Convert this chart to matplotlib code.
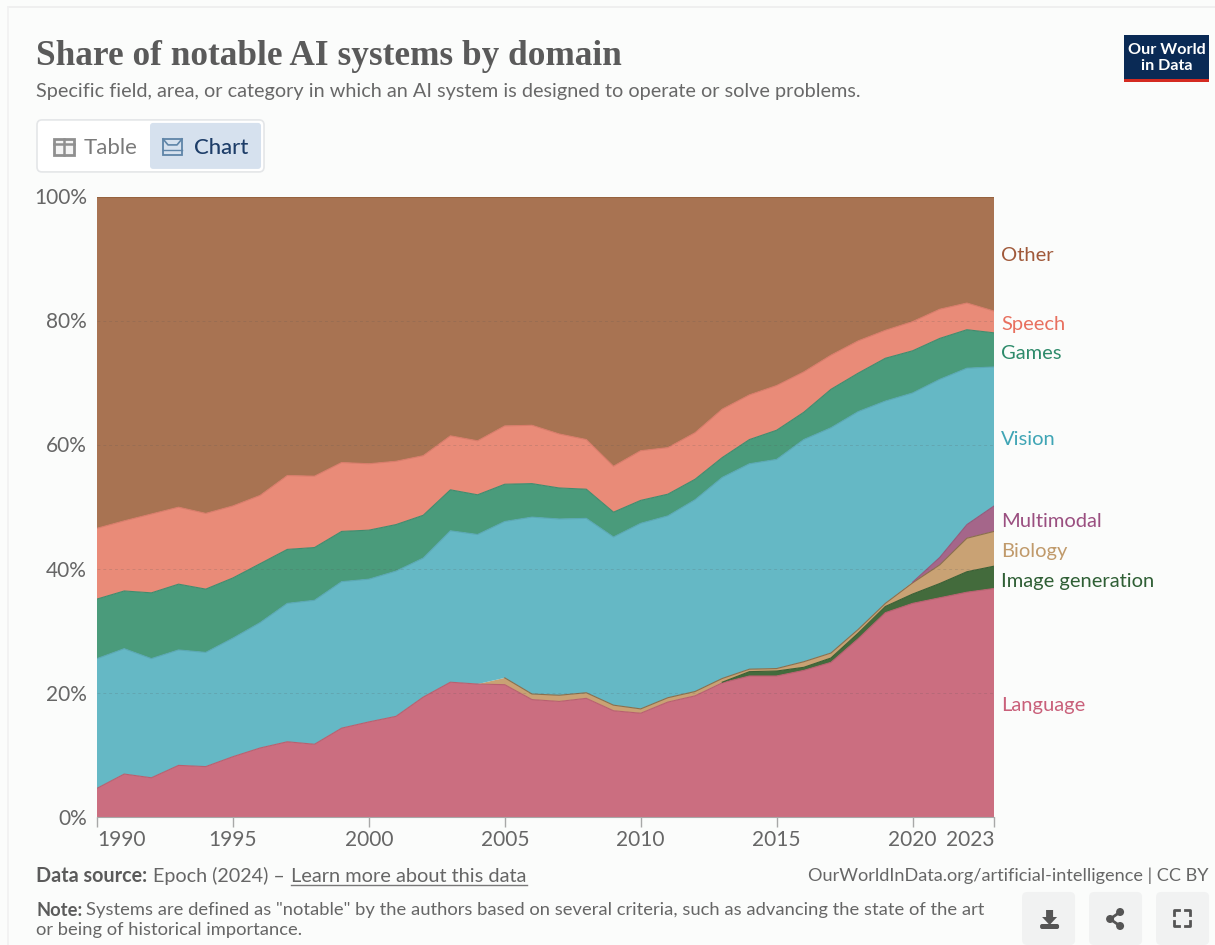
import matplotlib
matplotlib.use("Agg")
import matplotlib.pyplot as plt
from matplotlib.patches import Rectangle, FancyBboxPatch, Circle, Polygon

years = list(range(1990, 2024))
xtick_years = [1990, 1995, 2000, 2005, 2010, 2015, 2020, 2023]
ytick_values = [0, 20, 40, 60, 80, 100]

language = [4.7, 7.0, 6.4, 8.4, 8.2, 9.8, 11.2, 12.2, 11.8, 14.4, 15.4, 16.3, 19.4, 21.8, 21.5, 21.4, 19.0,
            18.7, 19.2, 17.2, 16.8, 18.6, 19.6, 21.7, 22.8, 22.8, 23.7, 25.0, 28.8, 33.0, 34.5, 35.4, 36.3, 36.9]
image_generation = [0, 0, 0, 0, 0, 0, 0, 0, 0, 0, 0, 0, 0, 0, 0, 0, 0,
                    0, 0, 0, 0, 0, 0, 0.1, 0.7, 0.8, 0.5, 0.7, 0.9, 1.0, 1.5, 2.3, 3.3, 3.6]
biology = [0, 0, 0, 0, 0, 0, 0, 0, 0, 0, 0, 0, 0, 0, 0, 1.1, 0.9,
           1.0, 0.9, 0.9, 0.7, 0.7, 0.7, 0.6, 0.4, 0.4, 0.9, 0.8, 0.6, 0.5, 1.8, 3.0, 5.4, 5.6]
multimodal = [0, 0, 0, 0, 0, 0, 0, 0, 0, 0, 0, 0, 0, 0, 0, 0, 0,
              0, 0, 0, 0, 0, 0, 0, 0, 0, 0, 0, 0, 0, 0.1, 1.2, 2.2, 4.1]
vision = [20.9, 20.2, 19.2, 18.6, 18.4, 19.1, 20.2, 22.3, 23.2, 23.6, 23.0, 23.4, 22.4, 24.4, 24.1, 25.2, 28.5,
          28.4, 28.1, 27.1, 29.9, 29.3, 30.9, 32.4, 33.1, 33.7, 35.8, 36.3, 35.1, 32.6, 30.5, 28.7, 25.2, 22.4]
games = [9.6, 9.3, 10.6, 10.6, 10.2, 9.7, 9.5, 8.7, 8.5, 8.1, 7.9, 7.5, 6.9, 6.6, 6.4, 6.0, 5.4,
         5.0, 4.7, 4.0, 3.7, 3.5, 3.3, 3.2, 3.9, 4.7, 4.4, 6.2, 6.2, 6.9, 6.8, 6.6, 6.2, 5.5]
speech = [11.4, 11.3, 12.7, 12.4, 12.2, 11.6, 11.0, 11.9, 11.5, 11.1, 10.7, 10.2, 9.6, 8.7, 8.7, 9.4, 9.4,
          8.7, 8.0, 7.4, 8.0, 7.5, 7.5, 7.8, 7.2, 7.2, 6.5, 5.5, 5.2, 4.5, 4.7, 4.7, 4.3, 3.5]
other = [53.4, 52.2, 51.1, 50.0, 51.0, 49.8, 48.1, 44.9, 45.0, 42.8, 43.0, 42.6, 41.7, 38.5, 39.3, 36.9, 36.8,
         38.2, 39.1, 43.4, 40.9, 40.4, 38.0, 34.2, 31.9, 30.4, 28.2, 25.5, 23.2, 21.5, 20.1, 18.1, 17.1, 18.4]

series = [language, image_generation, biology, multimodal, vision, games, speech, other]
fill_colors = ["#CB6E80", "#436B3C", "#C9A274", "#A5668A", "#65B8C5", "#4A9B7B", "#E98B78", "#A87352"]
edge_colors = ["#B8606F", "#3A5F34", "#8A6F4C", "#94597B", "#5AA8B4", "#418B6E", "#D97C6A", "#96633F"]

end_labels = ["Language", "Image generation", "Biology", "Multimodal", "Vision", "Games", "Speech", "Other"]
end_label_colors = ["#C9607A", "#2F5F35", "#C09A6B", "#9A4F80", "#3FA5B5", "#2E8B6B", "#E8705F", "#A0593A"]
end_label_y = [704, 580, 550, 520, 438, 352, 323, 254]

GREY = "#5B5B5B"
BG = "#FBFCFB"
TY = 1.2  # text sits a bit low in the reference

plt.rcParams["font.family"] = ["Lato", "DejaVu Sans"]

W, H = 1215, 945
fig = plt.figure(figsize=((W + 0.1) / 100, (H + 0.1) / 100), dpi=100, facecolor=BG)

# chart area, in pixels of the reference
left, right, top, bottom = 97, 994, 197, 817.5
ax = fig.add_axes([left / W, 1 - bottom / H, (right - left) / W, (bottom - top) / H])
ax.stackplot(years, series, colors=fill_colors, edgecolor=None, linewidth=0)

# thin darker line on top of each band, only where the band exists
lower = [0] * len(years)
for values, edge in zip(series, edge_colors):
    upper = [a + b for a, b in zip(lower, values)]
    xs = [y for y, v in zip(years, values) if v > 0]
    ys = [u for u, v in zip(upper, values) if v > 0]
    ax.plot(xs, ys, color=edge, lw=0.8)
    lower = upper

ax.set_xlim(1990, 2023)
ax.set_ylim(0, 100)
ax.set_facecolor(BG)
for y in ytick_values[1:-1]:
    ax.axhline(y, color="#555555", lw=0.7, ls=(0, (3, 3)), alpha=0.18)
for s in ["top", "right", "left"]:
    ax.spines[s].set_visible(False)
ax.spines["bottom"].set_color("#A8A8A8")
ax.set_xticks(xtick_years)
ax.set_xticklabels([])
ax.set_yticks(ytick_values)
ax.set_yticklabels([])
ax.tick_params(axis="x", length=7, color="#A8A8A8", width=1)
ax.tick_params(axis="y", length=0)

# overlay in pixel coordinates for all the page furniture
page = fig.add_axes([0, 0, 1, 1], facecolor="none")
page.set_xlim(0, W)
page.set_ylim(H, 0)
page.axis("off")

page.plot([8, W], [7, 7], color="#EDEDED", lw=1.2)
page.plot([8, 8], [7, H], color="#F1F1F1", lw=1.2)

page.text(36, 55 + TY, "Share of notable AI systems by domain", family="Liberation Serif", weight="bold",
          fontsize=25.4, color="#5A5A5A", va="center")
page.text(36, 90 + TY, "Specific field, area, or category in which an AI system is designed to operate or solve problems.",
          fontsize=14.35, color="#686868", va="center")

# logo
page.add_patch(Rectangle((1124, 35), 85, 47, color="#0A2A55", lw=0))
page.add_patch(Rectangle((1124, 79), 85, 3.5, color="#D42B21", lw=0))
page.text(1166.5, 50, "Our World", color="white", fontsize=11.6, weight="bold", ha="center", va="center")
page.text(1166.5, 66, "in Data", color="white", fontsize=11.6, weight="bold", ha="center", va="center")

# table / chart switch
page.add_patch(FancyBboxPatch((37, 120), 227, 52, boxstyle="round,pad=0,rounding_size=5",
                              fc="white", ec="#E4E6E8", lw=1.2))
page.add_patch(FancyBboxPatch((150, 123), 111, 46, boxstyle="round,pad=0,rounding_size=3",
                              fc="#D6E1EE", ec="none"))
page.add_patch(Rectangle((54, 139), 20, 16, fc="#F4F4F4", ec="#8F8F8F", lw=2))
page.plot([54, 74], [144.5, 144.5], color="#8F8F8F", lw=1.8)
page.plot([64, 64], [139, 155], color="#8F8F8F", lw=1.8)
page.text(84, 147 + TY, "Table", fontsize=16, color="#7A7A7A", va="center")
page.add_patch(Rectangle((163, 139), 19, 16, fc="none", ec="#5F85A8", lw=1.3))
page.plot([163, 168, 177, 182], [139, 145, 145, 139], color="#5F85A8", lw=1.2)
page.plot([163, 182], [150, 150], color="#5F85A8", lw=1.0)
page.text(194, 147 + TY, "Chart", fontsize=16, color="#1D3D68", weight="medium", va="center")

for y in ytick_values:
    py = bottom - (bottom - top) * y / 100
    page.text(87, py + TY, f"{y}%", fontsize=15, color="#666666", ha="right", va="center")

for yr in xtick_years:
    px = left + (right - left) * (yr - 1990) / (2023 - 1990)
    if yr == 1990:
        page.text(px, 839 + TY, str(yr), fontsize=15, color="#666666", ha="left", va="center")
    elif yr == 2023:
        page.text(px, 839 + TY, str(yr), fontsize=15, color="#666666", ha="right", va="center")
    else:
        page.text(px, 839 + TY, str(yr), fontsize=15, color="#666666", ha="center", va="center")

for label, color, py in zip(end_labels, end_label_colors, end_label_y):
    page.text(1001, py + TY, label, fontsize=14.5, color=color, va="center")

# footer
page.text(36, 875 + TY, "Data source:", fontsize=14.2, color=GREY, weight="bold", va="center")
page.text(153, 875 + TY, "Epoch (2024) –", fontsize=14.2, color="#666666", va="center")
page.text(291, 875 + TY, "Learn more about this data", fontsize=14.4, color="#666666", va="center")
page.plot([291, 527], [885, 885], color="#777777", lw=1)
page.text(1208, 874 + TY, "OurWorldInData.org/artificial-intelligence | CC BY", fontsize=13.05, color="#666666",
          ha="right", va="center")
page.text(36, 909 + TY, "Note:", fontsize=13.2, color=GREY, weight="bold", va="center")
page.text(86, 909 + TY, 'Systems are defined as "notable" by the authors based on several criteria, such as advancing the state of the art',
          fontsize=13.2, color="#666666", va="center")
page.text(36, 929 + TY, "or being of historical importance.", fontsize=13.2, color="#666666", va="center")

# buttons
for bx in [1022, 1089, 1156]:
    page.add_patch(FancyBboxPatch((bx, 892), 53, 53, boxstyle="round,pad=0,rounding_size=5",
                                  fc="#F1F2F2", ec="none"))
page.add_patch(FancyBboxPatch((1040, 924), 19, 5, boxstyle="round,pad=0,rounding_size=2", fc="#555555", ec="none"))
page.add_patch(Polygon([[1046, 910], [1053, 910], [1053, 917], [1057, 917], [1049.5, 925], [1042, 917], [1046, 917]],
                       fc="#555555", ec="none"))
for cx, cy in [(1110, 919), (1120, 912), (1120, 926)]:
    page.add_patch(Circle((cx, cy), 4, fc="#555555", ec="none"))
page.plot([1120, 1110, 1120], [912, 919, 926], color="#555555", lw=2)
for sx, sy in [(1174, 910), (1190, 910), (1174, 926), (1190, 926)]:
    dx = 5 if sx < 1180 else -5
    dy = 5 if sy < 918 else -5
    page.plot([sx, sx, sx + dx], [sy + dy, sy, sy], color="#555555", lw=2)

fig.savefig("out.png", dpi=100, facecolor=BG)
